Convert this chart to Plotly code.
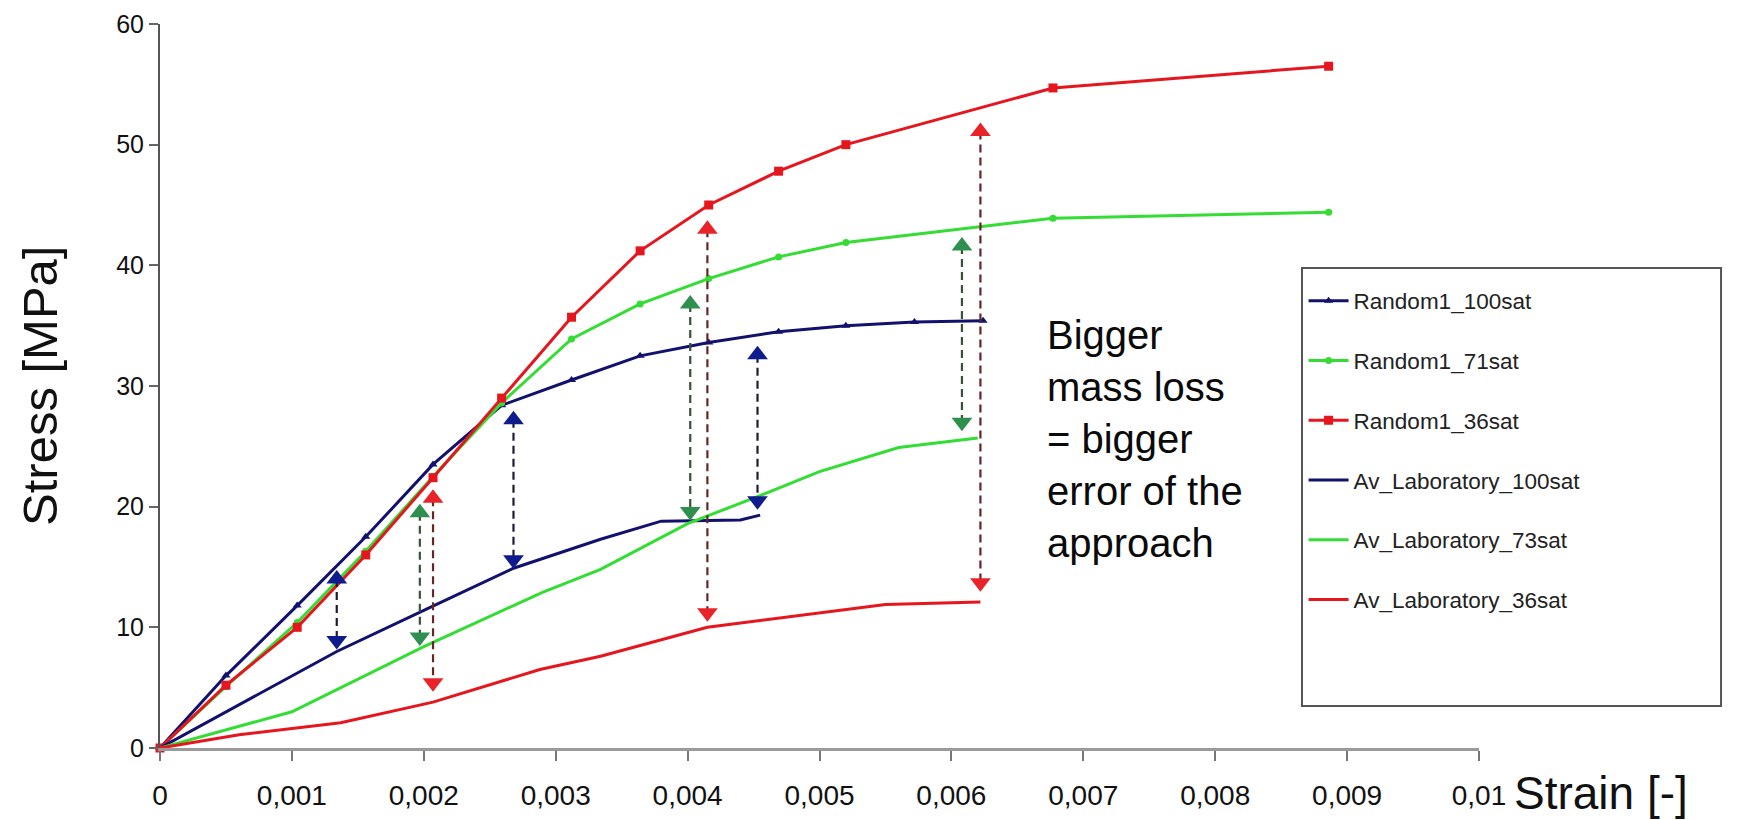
import plotly.graph_objects as go

# ---- model curves (Random1) ----
strain_rand_100 = [0, 0.0005, 0.00104, 0.00156, 0.00207, 0.00259, 0.00312, 0.00364,
                   0.00416, 0.00469, 0.0052, 0.00572, 0.00624]
stress_rand_100 = [0, 6.0, 11.8, 17.5, 23.5, 28.4, 30.5, 32.5, 33.6, 34.5, 35.0, 35.3, 35.4]

strain_rand_71 = [0, 0.0005, 0.00104, 0.00156, 0.00207, 0.00259, 0.00312, 0.00364,
                  0.00416, 0.00469, 0.0052, 0.00677, 0.00886]
stress_rand_71 = [0, 5.1, 10.4, 16.3, 22.5, 28.6, 33.9, 36.8, 38.9, 40.7, 41.9, 43.9, 44.4]

strain_rand_36 = [0, 0.0005, 0.00104, 0.00156, 0.00207, 0.00259, 0.00312, 0.00364,
                  0.00416, 0.00469, 0.0052, 0.00677, 0.00886]
stress_rand_36 = [0, 5.2, 10.0, 16.0, 22.4, 29.0, 35.7, 41.2, 45.0, 47.8, 50.0, 54.7, 56.5]

# ---- averaged laboratory curves ----
strain_lab_100 = [0, 0.00134, 0.002, 0.00268, 0.00334, 0.0038, 0.0044, 0.00455]
stress_lab_100 = [0, 8.0, 11.4, 14.9, 17.3, 18.8, 18.9, 19.3]

strain_lab_73 = [0, 0.001, 0.002, 0.0029, 0.00334, 0.004, 0.0045, 0.005, 0.0056, 0.0062]
stress_lab_73 = [0, 3.0, 8.4, 12.9, 14.8, 18.6, 20.7, 22.9, 24.9, 25.7]

strain_lab_36 = [0, 0.0006, 0.00137, 0.00207, 0.00288, 0.00334, 0.00415, 0.0055, 0.00622]
stress_lab_36 = [0, 1.1, 2.1, 3.8, 6.5, 7.6, 10.0, 11.9, 12.1]

# ---- error arrows (strain, upper end, lower end) ----
arrow_100_x = [0.00134, 0.00268, 0.00453]
arrow_100_top = [14.0, 27.2, 32.6]
arrow_100_bottom = [8.9, 15.6, 20.5]

arrow_73_x = [0.00197, 0.00402, 0.00608]
arrow_73_top = [19.5, 36.8, 41.6]
arrow_73_bottom = [9.2, 19.6, 27.0]

arrow_36_x = [0.00207, 0.00415, 0.00622]
arrow_36_top = [20.7, 43.0, 51.1]
arrow_36_bottom = [5.4, 11.2, 13.7]

x_ticks = [0, 0.001, 0.002, 0.003, 0.004, 0.005, 0.006, 0.007, 0.008, 0.009, 0.01]
x_tick_text = ["0", "0,001", "0,002", "0,003", "0,004", "0,005", "0,006",
               "0,007", "0,008", "0,009", "0,01"]

NAVY = "#12126e"
GREEN = "#33dd33"
RED = "#e5161e"
FONT = "Liberation Sans, Arial, sans-serif"

fig = go.Figure()

series = [
    ("Random1_100sat", strain_rand_100, stress_rand_100, NAVY, "triangle-up", 8),
    ("Random1_71sat", strain_rand_71, stress_rand_71, GREEN, "circle", 7),
    ("Random1_36sat", strain_rand_36, stress_rand_36, RED, "square", 9),
]
for i, (name, xs, ys, col, sym, sz) in enumerate(series):
    fig.add_trace(go.Scatter(
        x=xs, y=ys, name=name, mode="lines+markers", legendgroup=f"g{i}",
        line=dict(color=col, width=3),
        marker=dict(symbol=sym, size=sz, color=col),
        cliponaxis=False,
    ))

labs = [
    ("Av_Laboratory_100sat", strain_lab_100, stress_lab_100, NAVY),
    ("Av_Laboratory_73sat", strain_lab_73, stress_lab_73, GREEN),
    ("Av_Laboratory_36sat", strain_lab_36, stress_lab_36, RED),
]
for j, (name, xs, ys, col) in enumerate(labs):
    fig.add_trace(go.Scatter(
        x=xs, y=ys, name=name, mode="lines", legendgroup=f"g{j + 3}",
        line=dict(color=col, width=3), cliponaxis=False,
    ))

arrow_sets = [
    (arrow_100_x, arrow_100_top, arrow_100_bottom, "#0e1c8e", "#1c1c38"),
    (arrow_73_x, arrow_73_top, arrow_73_bottom, "#2f8f4e", "#385238"),
    (arrow_36_x, arrow_36_top, arrow_36_bottom, "#e8242a", "#642626"),
]
for xs, tops, bots, mcol, dcol in arrow_sets:
    for x, t, b in zip(xs, tops, bots):
        fig.add_trace(go.Scatter(
            x=[x, x], y=[t, b], mode="lines+markers", showlegend=False,
            line=dict(color=dcol, width=2.2, dash="8px,5px"),
            marker=dict(symbol=["triangle-up", "triangle-down"], size=18, color=mcol),
            hoverinfo="skip",
        ))

# legend frame
fig.add_shape(type="rect", xref="paper", yref="paper",
              x0=0.8658, x1=1.1835, y0=0.058, y1=0.663,
              line=dict(color="#555555", width=2), fillcolor="white", layer="below")

fig.add_annotation(
    text="Bigger<br>mass loss<br>= bigger<br>error of the<br>approach",
    xref="x", yref="y", x=0.00671, y=25.6, xanchor="left", yanchor="middle",
    align="left", showarrow=False, font=dict(family=FONT, size=40, color="#0a0a0a"),
)
fig.add_annotation(
    text="Stress [MPa]", xref="paper", yref="paper", x=-0.091, y=0.5,
    xanchor="center", yanchor="middle", textangle=-90, showarrow=False,
    font=dict(family=FONT, size=49, color="#111111"),
)
fig.add_annotation(
    text="Strain [-]", xref="paper", yref="paper", x=1.026, y=-0.0994,
    xanchor="left", yanchor="bottom", showarrow=False, borderpad=0,
    font=dict(family=FONT, size=46, color="#111111"),
)

fig.update_layout(
    width=1752, height=820,
    margin=dict(l=160, r=273, t=24, b=72),
    paper_bgcolor="white", plot_bgcolor="white",
    font=dict(family=FONT, color="#111111"),
    showlegend=True,
    legend=dict(
        x=0.867, y=0.647, xanchor="left", yanchor="top",
        bgcolor="rgba(0,0,0,0)", borderwidth=0,
        font=dict(family=FONT, size=22.5, color="#222222"),
        tracegroupgap=27.5, traceorder="grouped", itemwidth=40,
    ),
    xaxis=dict(
        range=[0, 0.01], tickvals=x_ticks, ticktext=x_tick_text,
        showgrid=False, zeroline=False, automargin=False,
        showline=True, linecolor="#9a9a9a", linewidth=3,
        ticks="outside", ticklen=10, tickwidth=2, tickcolor="#777777",
        ticklabelstandoff=10,
        tickfont=dict(family="Liberation Sans Narrow, Arial Narrow, Liberation Sans, Arial",
                      size=28, color="#111111"),
    ),
    yaxis=dict(
        range=[0, 60], dtick=10, showgrid=False, zeroline=False, automargin=False,
        showline=True, linecolor="#555555", linewidth=2,
        ticks="outside", ticklen=9, tickwidth=2, tickcolor="#666666",
        tickfont=dict(family=FONT, size=25, color="#111111"),
    ),
)

fig.write_html("out.html")
